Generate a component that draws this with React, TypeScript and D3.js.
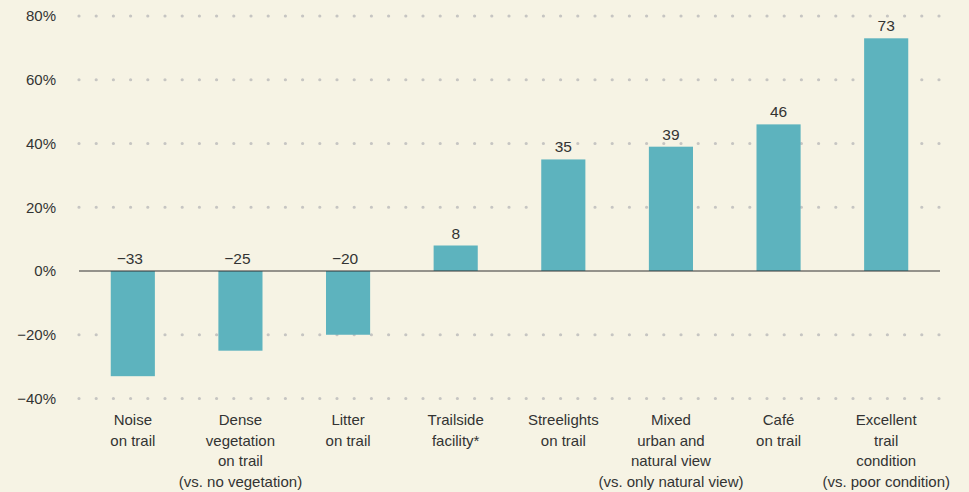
import React, { useEffect, useRef } from "react";
import * as d3 from "d3";

const categories = [
  ["Noise", "on trail"],
  ["Dense", "vegetation", "on trail", "(vs. no vegetation)"],
  ["Litter", "on trail"],
  ["Trailside", "facility*"],
  ["Streelights", "on trail"],
  ["Mixed", "urban and", "natural view", "(vs. only natural view)"],
  ["Café", "on trail"],
  ["Excellent", "trail", "condition", "(vs. poor condition)"],
];
const values = [-33, -25, -20, 8, 35, 39, 46, 73];
const yTicks = [-40, -20, 0, 20, 40, 60, 80];

const width = 969;
const height = 492;

export default function App() {
  const ref = useRef<SVGSVGElement>(null);

  useEffect(() => {
    const svg = d3.select(ref.current);
    svg.selectAll("*").remove();

    const left = 79;
    const right = 940;

    const x = d3
      .scaleBand()
      .domain(categories.map((d, i) => String(i)))
      .range([left, right])
      .paddingInner(0.59)
      .paddingOuter(0.295);

    const y = d3.scaleLinear().domain([-40, 80]).range([398.5, 16]);

    svg.append("rect").attr("width", width).attr("height", height).attr("fill", "#f6f3e4");

    // dotted grid
    const grid = svg.append("g");
    yTicks
      .filter((t) => t !== 0)
      .forEach((t) => {
        grid
          .append("line")
          .attr("x1", left)
          .attr("x2", right)
          .attr("y1", y(t))
          .attr("y2", y(t))
          .attr("stroke", "#c6c5c2")
          .attr("stroke-width", 3.2)
          .attr("stroke-linecap", "round")
          .attr("stroke-dasharray", "0 17.2");
      });

    // y tick labels
    svg
      .append("g")
      .selectAll("text")
      .data(yTicks)
      .enter()
      .append("text")
      .attr("x", 56)
      .attr("y", (d) => y(d))
      .attr("dy", "0.36em")
      .attr("text-anchor", "end")
      .attr("font-size", 15)
      .attr("fill", "#333")
      .text((d) => (d < 0 ? "\u2212" + Math.abs(d) : d) + "%");

    // bars
    svg
      .append("g")
      .selectAll("rect")
      .data(values)
      .enter()
      .append("rect")
      .attr("x", (d, i) => x(String(i))!)
      .attr("y", (d) => y(Math.max(0, d)))
      .attr("width", x.bandwidth())
      .attr("height", (d) => Math.abs(y(d) - y(0)))
      .attr("fill", "#5db3be");

    // zero line
    svg
      .append("line")
      .attr("x1", left)
      .attr("x2", right)
      .attr("y1", y(0))
      .attr("y2", y(0))
      .attr("stroke", "#333")
      .attr("stroke-width", 1.2);

    // value labels
    svg
      .append("g")
      .selectAll("text")
      .data(values)
      .enter()
      .append("text")
      .attr("x", (d, i) => x(String(i))! + x.bandwidth() / 2 - (d < 0 ? 3 : 0))
      .attr("y", (d) => y(Math.max(0, d)) - 7)
      .attr("text-anchor", "middle")
      .attr("font-size", 15.5)
      .attr("fill", "#333")
      .text((d) => (d < 0 ? "\u2212" + Math.abs(d) : String(d)));

    // category labels
    const cat = svg
      .append("g")
      .selectAll("text")
      .data(categories)
      .enter()
      .append("text")
      .attr("x", (d, i) => x(String(i))! + x.bandwidth() / 2)
      .attr("y", 425)
      .attr("text-anchor", "middle")
      .attr("font-size", 15)
      .attr("fill", "#333");

    cat
      .selectAll("tspan")
      .data((d) => d)
      .enter()
      .append("tspan")
      .attr("x", function () {
        return (this as any).parentNode.getAttribute("x");
      })
      .attr("dy", (d, i) => (i === 0 ? 0 : 20.7))
      .text((d) => d);
  }, []);

  return (
    <svg
      ref={ref}
      width={width}
      height={height}
      style={{ position: "absolute", left: 0, top: 0, fontFamily: "'Liberation Sans', Arial, sans-serif" }}
    />
  );
}
